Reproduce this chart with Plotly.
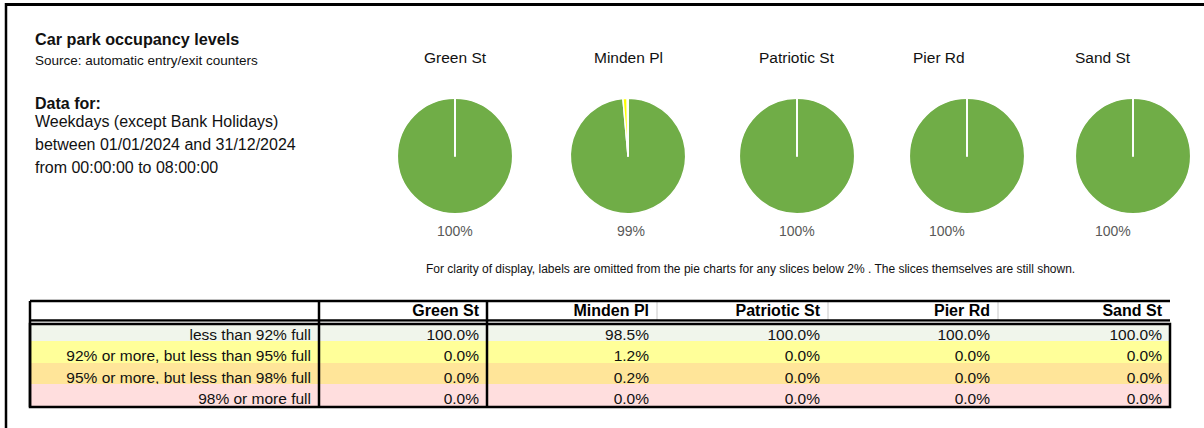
import math
import plotly.graph_objects as go

W, H = 1204, 428

car_parks = ["Green St", "Minden Pl", "Patriotic St", "Pier Rd", "Sand St"]
bands = ["less than 92% full",
         "92% or more, but less than 95% full",
         "95% or more, but less than 98% full",
         "98% or more full"]

# share of time spent in each occupancy band (%)
green_st = [100.0, 0.0, 0.0, 0.0]
minden_pl = [98.5, 1.2, 0.2, 0.0]
patriotic_st = [100.0, 0.0, 0.0, 0.0]
pier_rd = [100.0, 0.0, 0.0, 0.0]
sand_st = [100.0, 0.0, 0.0, 0.0]
shares = [green_st, minden_pl, patriotic_st, pier_rd, sand_st]

info_lines = ["Weekdays (except Bank Holidays)",
              "between 01/01/2024 and 31/12/2024",
              "from 00:00:00 to 08:00:00"]

slice_colors = ["#70AD47", "#FFFF00", "#FFC000", "#FF0000"]
row_fills = ["#F0F5EB", "#FFFF99", "#FFE599", "#FFDEDE"]
FONT = "Liberation Sans, Arial, sans-serif"


def fx(x):
    return x / W


def fy(y):
    return 1 - y / H


def pie_label(v):
    # Excel style: rounded half up, nothing shown under 2%
    return f"{math.floor(v + 0.5)}%" if v >= 2 else ""


fig = go.Figure()

# pies
centres = [455, 628, 797, 967, 1133]
cy, r = 156, 57.7
for name, vals, cx in zip(car_parks, shares, centres):
    fig.add_trace(go.Pie(
        labels=bands, values=vals, sort=False, direction="clockwise", rotation=0,
        marker=dict(colors=slice_colors, line=dict(color="white", width=1.5)),
        textinfo="none",
        domain=dict(x=[fx(cx - 65), fx(cx + 65)], y=[fy(cy + r), fy(cy - r)]),
        showlegend=False, name=name, hovertemplate="%{label}: %{value}%<extra>" + name + "</extra>",
    ))
    fig.add_annotation(text=name, x=fx(cx), y=fy(58), font=dict(size=15.5))

    # data labels outside the pie at each slice's mid angle (slices < 2% unlabelled)
    start = 0
    total = sum(vals)
    for v in vals:
        mid = 2 * math.pi * (start + v / 2) / total
        start += v
        if pie_label(v):
            fig.add_annotation(text=pie_label(v), x=fx(cx + (r + 17) * math.sin(mid)),
                               y=fy(cy - (r + 17) * math.cos(mid)),
                               font=dict(size=14, color="#595959"))

# table
col_widths = [289, 168, 170, 171, 170, 172]
tx0, tx1 = 30, 1170
fig.add_trace(go.Table(
    domain=dict(x=[fx(tx0), fx(tx1)], y=[0, fy(296)]),
    columnwidth=col_widths,
    header=dict(values=[""] + car_parks, align="right", height=24,
                fill_color="white", line=dict(color="white", width=1),
                font=dict(family=FONT, size=16, color="black", weight="bold")),
    cells=dict(values=[bands] + [[f"{v:.1f}%" for v in s] for s in shares],
               align="right", height=21.5,
               fill_color=[row_fills] * len(col_widths),
               line=dict(color=[row_fills] * len(col_widths), width=1),
               font=dict(family=FONT, size=15.5, color="#111")),
))

# borders
ty0, ty_head, ty_body, ty_end = 301, 320.5, 324, 407
edges = [tx0]
for w in col_widths:
    edges.append(edges[-1] + w)
shapes = [
    dict(type="line", x0=fx(5), x1=1, y0=fy(4.5), y1=fy(4.5), line=dict(color="black", width=3)),
    dict(type="line", x0=fx(6), x1=fx(6), y0=fy(3), y1=0, line=dict(color="black", width=2.5)),
]
for x in edges[3:6]:
    shapes.append(dict(type="line", x0=fx(x), x1=fx(x), y0=fy(ty0), y1=fy(ty_head),
                       line=dict(color="#C8C8C8", width=1)))
shapes += [
    dict(type="line", x0=fx(tx0), x1=fx(tx1), y0=fy(ty0), y1=fy(ty0), line=dict(color="black", width=2.5)),
    dict(type="line", x0=fx(tx0), x1=fx(tx1), y0=fy(ty_head), y1=fy(ty_head), line=dict(color="black", width=2.5)),
    dict(type="line", x0=fx(tx0), x1=fx(tx1), y0=fy(322.3), y1=fy(322.3), line=dict(color="white", width=1.2)),
    dict(type="rect", x0=fx(tx0), x1=fx(tx1), y0=fy(ty_body), y1=fy(ty_end), line=dict(color="black", width=2.5)),
]
for x in edges[:3]:
    shapes.append(dict(type="line", x0=fx(x), x1=fx(x), y0=fy(ty0), y1=fy(ty_end),
                       line=dict(color="black", width=2.5)))
for s in shapes:
    s.update(xref="paper", yref="paper")

# text block on the left
fig.add_annotation(text="<b>Car park occupancy levels</b>", x=fx(33), y=fy(39), xanchor="left",
                   font=dict(size=16.2))
fig.add_annotation(text="Source: automatic entry/exit counters", x=fx(33), y=fy(60), xanchor="left",
                   font=dict(size=13.5))
fig.add_annotation(text="<b>Data for:</b>", x=fx(33), y=fy(103), xanchor="left", font=dict(size=16))
for i, line in enumerate(info_lines):
    fig.add_annotation(text=line, x=fx(33), y=fy(122 + 22.5 * i), xanchor="left", font=dict(size=16))
fig.add_annotation(
    text="For clarity of display, labels are omitted from the pie charts for any slices below 2% . "
         "The slices themselves are still shown.",
    x=fx(750), y=fy(269), font=dict(size=12))
for a in fig.layout.annotations:
    a.update(xref="paper", yref="paper", showarrow=False, yanchor="middle")
    a.font.family = FONT
    if a.font.color is None:
        a.font.color = "#111"

fig.update_layout(width=W, height=H, margin=dict(l=0, r=0, t=0, b=0),
                  paper_bgcolor="white", plot_bgcolor="white", shapes=shapes)

fig.write_html("out.html", config={"displayModeBar": False},
               post_script="document.body.style.margin='0';document.body.style.overflow='hidden';")
